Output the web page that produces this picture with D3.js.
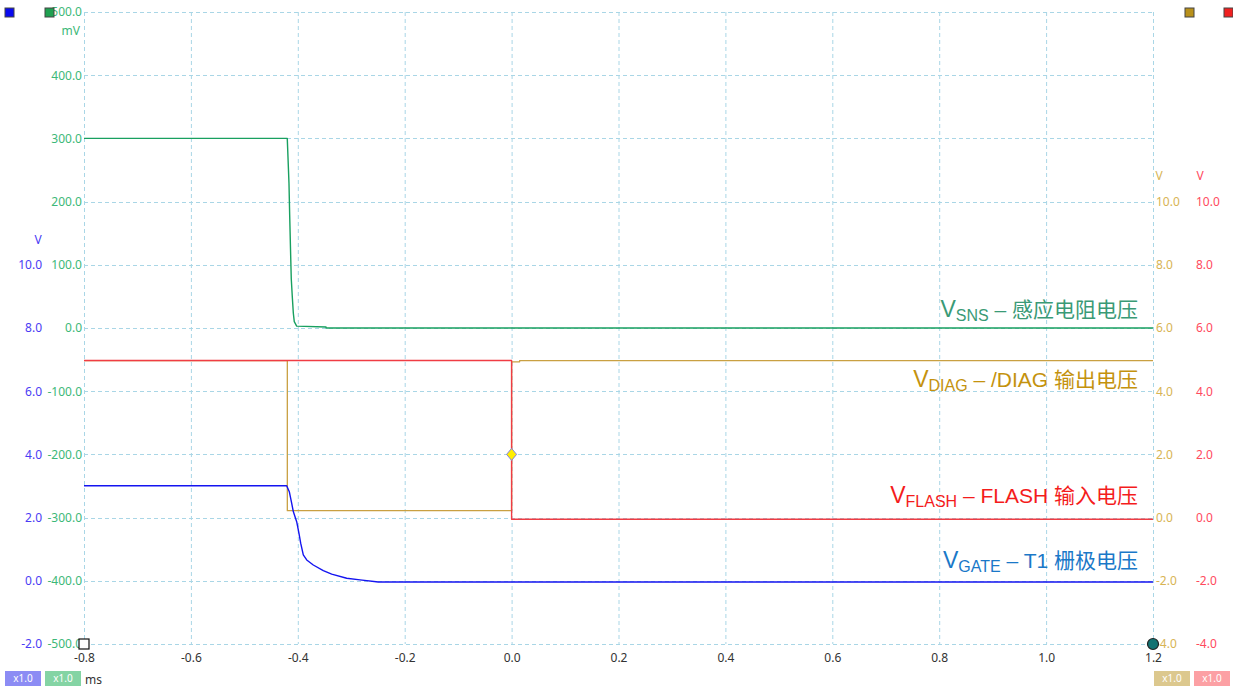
<!DOCTYPE html>
<html><head><meta charset="utf-8">
<script src="https://cdn.jsdelivr.net/npm/d3@7"></script>
<style>
html,body{margin:0;padding:0;background:#fff;}
svg{display:block;}
</style></head>
<body>
<svg id="chart" width="1233" height="690"></svg>
<script>
// ---- data ----
const timeTicks = [-0.8,-0.6,-0.4,-0.2,0.0,0.2,0.4,0.6,0.8,1.0,1.2];
const mvTicks = [-500,-400,-300,-200,-100,0,100,200,300,400,500];
const gateTicks = [-2,0,2,4,6,8,10];
const rightTicks = [-4,-2,0,2,4,6,8,10];

// VSNS (mV)
const sensTime = [-0.8,-0.4197,-0.4165,-0.4152,-0.4133,-0.4122,-0.4103,-0.4084,-0.4066,-0.4021,-0.3472,-0.347,1.2];
const sensMv   = [300, 300, 229, 179, 113, 77.5, 49.5, 23.7, 10, 3, 1.5, 0, 0];
// VDIAG (V)
const diagTime = [-0.8,-0.4196,-0.4196,0.0,0.0,0.015,0.015,1.2];
const diagV    = [4.97,4.97,0.22,0.22,4.93,4.93,4.97,4.97];
// VFLASH (V)
const flashTime = [-0.8,0.0,0.0,1.2];
const flashV    = [4.97,4.97,-0.05,-0.05];
// VGATE (V)
const gateTime = [-0.8,-0.4208,-0.4159,-0.4114,-0.4084,-0.4021,-0.3978,-0.3946,-0.3897,-0.3833,-0.3710,-0.3523,-0.3366,-0.3085,-0.2836,-0.2494,1.2];
const gateV    = [3.01,3.01,2.82,2.45,2.19,1.87,1.50,1.19,0.82,0.66,0.50,0.32,0.21,0.08,0.03,-0.04,-0.04];

const labels = [
  {main:"V", sub:"SNS", rest:" – 感应电阻电压", color:"#3a9a76", y:317},
  {main:"V", sub:"DIAG", rest:" – /DIAG 输出电压", color:"#c4920e", y:387},
  {main:"V", sub:"FLASH", rest:" – FLASH 输入电压", color:"#f41c1c", y:503},
  {main:"V", sub:"GATE", rest:" – T1 栅极电压", color:"#1a78c8", y:568}
];

// ---- layout ----
const svg = d3.select("#chart");
const L = 84, R = 1153, T = 12, B = 644;
const x = d3.scaleLinear().domain([-0.8,1.2]).range([L,R]);
const yMv = d3.scaleLinear().domain([-500,500]).range([B,T]);
const yGate = d3.scaleLinear().domain([-2,18]).range([B,T]);
const yRight = d3.scaleLinear().domain([-4,16]).range([B,T]);

const gridColor = "#a9d6e6";
const tickFont = "'Noto Sans', sans-serif";
const f1 = d=> (Math.abs(d) < 1e-9 ? "0.0" : d3.format(".1f")(d)).replace("\u2212","-");

// grid
const grid = svg.append("g");
grid.selectAll("line.v").data(timeTicks).enter().append("line")
  .attr("x1",d=>x(d)+0.5).attr("x2",d=>x(d)+0.5).attr("y1",T).attr("y2",B)
  .attr("stroke",gridColor).attr("stroke-width",1).attr("stroke-dasharray","4,3");
grid.selectAll("line.h").data(mvTicks).enter().append("line")
  .attr("y1",d=>Math.round(yMv(d))+0.5).attr("y2",d=>Math.round(yMv(d))+0.5).attr("x1",L).attr("x2",R)
  .attr("stroke",gridColor).attr("stroke-width",1).attr("stroke-dasharray","4,3");

// axes text
const axX = d3.axisBottom(x).tickValues(timeTicks).tickFormat(f1).tickSize(0).tickPadding(9);
const gx = svg.append("g").attr("transform",`translate(0,${B})`).call(axX);
gx.select(".domain").remove();
gx.selectAll("text").attr("font-family",tickFont).attr("font-size",12).attr("fill","#333");

function leftAxis(scale, ticks, xpos, color, fmt){
  const a = d3.axisLeft(scale).tickValues(ticks).tickFormat(fmt).tickSize(0).tickPadding(0);
  const g = svg.append("g").attr("transform",`translate(${xpos},0)`).call(a);
  g.select(".domain").remove();
  g.selectAll("text").attr("font-family",tickFont).attr("font-size",12).attr("fill",color);
  return g;
}
function rightAxis(scale, ticks, xpos, color, fmt){
  const a = d3.axisRight(scale).tickValues(ticks).tickFormat(fmt).tickSize(0).tickPadding(0);
  const g = svg.append("g").attr("transform",`translate(${xpos},0)`).call(a);
  g.select(".domain").remove();
  g.selectAll("text").attr("font-family",tickFont).attr("font-size",12).attr("fill",color);
  return g;
}
leftAxis(yGate, gateTicks, 42, "#4a3cf4", f1);
leftAxis(yMv, mvTicks, 82, "#3cb878", f1);
rightAxis(yRight, rightTicks, 1156, "#d8b454", f1);
rightAxis(yRight, rightTicks, 1196, "#ff4a5e", f1);

// unit labels
svg.append("text").attr("x",80).attr("y",35).attr("text-anchor","end").attr("font-family",tickFont).attr("font-size",12).attr("fill","#3cb878").text("mV");
svg.append("text").attr("x",38).attr("y",244).attr("text-anchor","middle").attr("font-family",tickFont).attr("font-size",12).attr("fill","#4a3cf4").text("V");
svg.append("text").attr("x",1159).attr("y",180).attr("text-anchor","middle").attr("font-family",tickFont).attr("font-size",12).attr("fill","#d8b454").text("V");
svg.append("text").attr("x",1200).attr("y",180).attr("text-anchor","middle").attr("font-family",tickFont).attr("font-size",12).attr("fill","#ff4a5e").text("V");
svg.append("text").attr("x",85).attr("y",684).attr("font-family",tickFont).attr("font-size",12).attr("fill","#333").text("ms");

// traces
function trace(ts, vs, scale, color, w){
  const pts = ts.map((t,i)=>[t, vs[i]]);
  svg.append("path").datum(pts)
    .attr("d", d3.line().x(d=>x(d[0])).y(d=>scale(d[1])))
    .attr("fill","none").attr("stroke",color).attr("stroke-width",w).attr("stroke-linejoin","round");
}
trace(diagTime, diagV, yRight, "#c9a042", 1.3);
trace(flashTime, flashV, yRight, "#f03c44", 1.4);
trace(gateTime, gateV, yGate, "#1414f0", 1.4);
trace(sensTime, sensMv, yMv, "#18a060", 1.4);

// trigger diamond
const dx = x(0), dy = yRight(2);
svg.append("path").attr("d",`M${dx},${dy-6}L${dx+5},${dy}L${dx},${dy+6}L${dx-5},${dy}Z`)
  .attr("fill","#ffee00").attr("stroke","#8080e0").attr("stroke-width",1);

// corner markers
svg.append("rect").attr("x",L-5).attr("y",B-5).attr("width",10).attr("height",10).attr("fill","#fff").attr("stroke","#111").attr("stroke-width",1.2);
svg.append("circle").attr("cx",R).attr("cy",B).attr("r",5.5).attr("fill","#127272").attr("stroke","#222").attr("stroke-width",1.2);

// channel squares
const sq = [{x:5,c:"#0a0af0"},{x:45,c:"#1fa050"},{x:1185,c:"#b8901a"},{x:1224,c:"#f02020"}];
svg.selectAll("rect.sq").data(sq).enter().append("rect")
  .attr("x",d=>d.x).attr("y",8).attr("width",9).attr("height",9)
  .attr("fill",d=>d.c).attr("stroke","#444").attr("stroke-width",1);

// badges
const badges = [{x:5,c:"#8c8cf4"},{x:45,c:"#84d4a4"},{x:1154,c:"#dcc88e"},{x:1194,c:"#fca0a4"}];
const bg = svg.selectAll("g.badge").data(badges).enter().append("g");
bg.append("rect").attr("x",d=>d.x).attr("y",671).attr("width",36).attr("height",15).attr("fill",d=>d.c);
bg.append("text").attr("x",d=>d.x+18).attr("y",682).attr("text-anchor","middle").attr("font-family",tickFont)
  .attr("font-size",10).attr("fill","#fff").text("x1.0");

// trace labels
const lblFont = "'Liberation Sans','Noto Sans CJK SC',sans-serif";
labels.forEach(l=>{
  const t = svg.append("text").attr("x",1138).attr("y",l.y).attr("text-anchor","end")
    .attr("font-family",lblFont).attr("fill",l.color);
  t.append("tspan").attr("font-size",23).text(l.main);
  t.append("tspan").attr("font-size",16).attr("dy",4).text(l.sub);
  t.append("tspan").attr("font-size",21).attr("dy",-4).text(l.rest);
});
</script>
</body></html>
